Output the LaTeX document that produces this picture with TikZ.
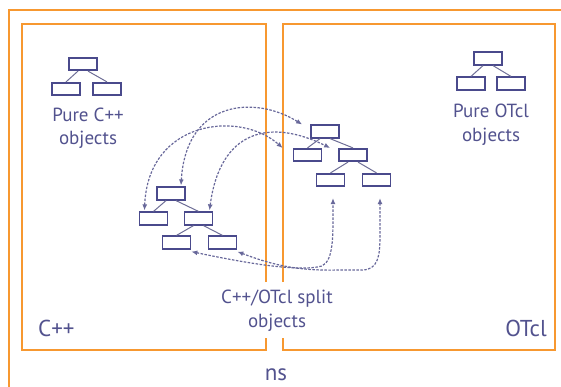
\documentclass[tikz,border=0pt]{standalone}
\usepackage{fontspec}
\setmainfont{PT Sans}
\usetikzlibrary{arrows.meta}
\definecolor{ornge}{RGB}{247,152,48}
\definecolor{ink}{RGB}{82,82,142}
\definecolor{boxc}{RGB}{74,74,140}
\definecolor{dashc}{RGB}{104,104,154}
\definecolor{linkc}{RGB}{110,110,150}
\tikzset{
  obj/.style={draw=boxc, line width=1.7pt, rectangle, minimum width=28pt, minimum height=12.5pt, inner sep=0pt},
  frame/.style={draw=ornge, line width=1.5pt},
  lbl/.style={text=ink, font=\fontsize{19}{23}\selectfont, inner sep=0pt, anchor=base},
  biglbl/.style={text=ink, font=\fontsize{23}{27}\selectfont, inner sep=0pt},
  tree/.style={draw=linkc, line width=1pt},
  link/.style={draw=dashc, line width=1.2pt, dash pattern=on 2.5pt off 1.5pt, {Latex[length=6pt,width=5pt]}-{Latex[length=6pt,width=5pt]}}
}
\begin{document}
\begin{tikzpicture}[x=1pt,y=-1pt]
\useasboundingbox (0,0) rectangle (561,387);
% frames
\draw[frame] (9,387) -- (9,10) -- (561,10);
\draw[frame] (266,282) -- (266,24) -- (22,24) -- (22,350) -- (266,350) -- (266,338);
\draw[frame] (283,282) -- (283,24) -- (555,24) -- (555,350) -- (283,350) -- (283,338);
% pure C++
\node[obj] (pc0) at (83,64) {};
\node[obj] (pc1) at (66,89) {};
\node[obj] (pc2) at (107,89) {};
\draw[tree] ([xshift=-5pt]pc0.south) -- (pc1.north);
\draw[tree] ([xshift=5pt]pc0.south) -- (pc2.north);
\node[lbl] (pct1) at (88,122) {Pure C++};
\node[lbl] (pct2) at (88,145) {objects};
% pure OTcl
\node[obj] (po0) at (488,58.5) {};
\node[obj] (po1) at (471,83.5) {};
\node[obj] (po2) at (511,83.5) {};
\draw[tree] ([xshift=-5pt]po0.south) -- (po1.north);
\draw[tree] ([xshift=5pt]po0.south) -- (po2.north);
\node[lbl] (pot1) at (491,118) {Pure OTcl};
\node[lbl] (pot2) at (491,142) {objects};
% split left tree
\node[obj] (l0) at (171,193.5) {};
\node[obj] (l1) at (153.5,218.5) {};
\node[obj] (l2) at (198.5,218.5) {};
\node[obj] (l3) at (176.5,242.5) {};
\node[obj] (l4) at (222.5,242.5) {};
\draw[tree] ([xshift=-5pt]l0.south) -- (l1.north);
\draw[tree] ([xshift=5pt]l0.south) -- (l2.north);
\draw[tree] ([xshift=-5pt]l2.south) -- (l3.north);
\draw[tree] ([xshift=5pt]l2.south) -- (l4.north);
% split right tree
\node[obj] (r0) at (325,131.5) {};
\node[obj] (r1) at (307.5,155) {};
\node[obj] (r2) at (353,155) {};
\node[obj] (r3) at (330.5,180) {};
\node[obj] (r4) at (376.5,180) {};
\draw[tree] ([xshift=-5pt]r0.south) -- (r1.north);
\draw[tree] ([xshift=5pt]r0.south) -- (r2.north);
\draw[tree] ([xshift=-5pt]r2.south) -- (r3.north);
\draw[tree] ([xshift=5pt]r2.south) -- (r4.north);
% links
\draw[link] ([shift={(10,-1)}]l0.north) .. controls (186,100) and (255,95) .. ([shift={(-8,-7)}]r0.west);
\draw[link] ([shift={(-9,-1)}]l1.north) .. controls (148,120) and (240,110) .. ([shift={(-10,-7)}]r1.west);
\draw[link] ([shift={(11,-1)}]l2.north) .. controls (220,130) and (270,118) .. ([shift={(-8,-7)}]r2.west);
\draw[link] ([shift={(0,2)}]l3.south east) .. controls (250,264) and (300,272) .. (322,266)
   .. controls (334,260) and (333,235) .. ([shift={(2.5,11)}]r3.south);
\draw[link] ([shift={(0,2)}]l4.south east) .. controls (275,266) and (300,271) .. (340,270)
   -- (362,270) .. controls (378,270) and (380,256) .. (380,236) -- ([shift={(3.5,11)}]r4.south);
% labels
\node[lbl] (sp1) at (277,303) {C++/OTcl split};
\node[lbl] (sp2) at (277,327) {objects};
\node[biglbl, anchor=base west] (cpp) at (38,336) {C++};
\node[biglbl, anchor=base east] (otcl) at (547,336) {OTcl};
\node[biglbl, anchor=base] (ns) at (276,380) {ns};
\end{tikzpicture}
\end{document}
